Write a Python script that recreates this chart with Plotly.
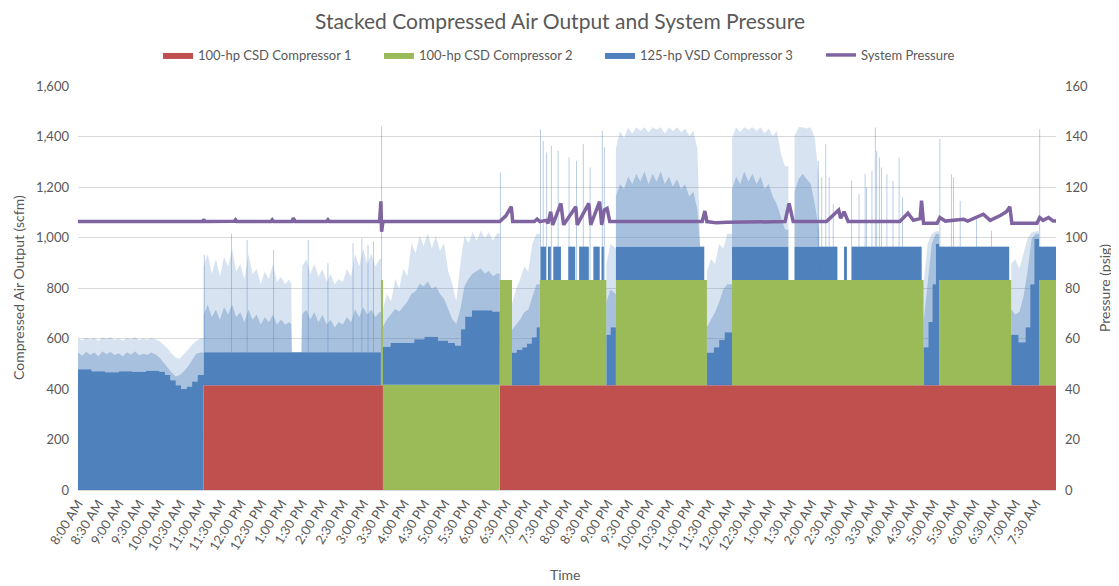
import plotly.graph_objects as go

# ---------------- data ----------------
tick_labels = ["8:00 AM", "8:30 AM", "9:00 AM", "9:30 AM", "10:00 AM", "10:30 AM",
               "11:00 AM", "11:30 AM", "12:00 PM", "12:30 PM", "1:00 PM", "1:30 PM",
               "2:00 PM", "2:30 PM", "3:00 PM", "3:30 PM", "4:00 PM", "4:30 PM",
               "5:00 PM", "5:30 PM", "6:00 PM", "6:30 PM", "7:00 PM", "7:30 PM",
               "8:00 PM", "8:30 PM", "9:00 PM", "9:30 PM", "10:00 PM", "10:30 PM",
               "11:00 PM", "11:30 PM", "12:00 AM", "12:30 AM", "1:00 AM", "1:30 AM",
               "2:00 AM", "2:30 AM", "3:00 AM", "3:30 AM", "4:00 AM", "4:30 AM",
               "5:00 AM", "5:30 AM", "6:00 AM", "6:30 AM", "7:00 AM", "7:30 AM"]

# clock times; hours >= 24 are the next morning
END_TIME = "32:00"

red_time = ["08:00", "11:05", "15:29", "18:21"]
red_scfm = [0, 415, 0, 415]

green_time = ["08:00", "15:26", "18:39", "19:20", "20:58", "21:12", "23:26", "24:03",
              "28:45", "29:08", "30:54", "31:35"]
green_scfm = [0, 417, 0, 417, 0, 417, 0, 417, 0, 417, 0, 417]

# VSD compressor, steady (solid) output level, step-wise
vsd_time = ["08:00", "08:20", "08:40", "09:00", "09:20", "09:40", "10:00", "10:08",
            "10:16", "10:24", "10:32", "10:40", "10:48", "10:56",
            "11:05", "15:26", "15:29", "15:40", "16:00", "16:15", "16:30", "16:50",
            "17:05", "17:15", "17:24", "17:30", "17:40", "18:10",
            "18:21", "18:39", "18:46", "18:54", "19:01", "19:08", "19:15",
            "19:20", "19:21", "19:29", "19:32", "19:36", "19:40", "19:51", "20:02",
            "20:12", "20:18", "20:32", "20:39", "20:48", "20:51", "20:54",
            "20:58", "21:04", "21:12", "23:22", "23:26", "23:36", "23:44", "23:52",
            "24:03", "25:26", "25:35", "26:38", "26:48", "26:52", "26:59", "28:42",
            "28:45", "28:52", "28:58", "29:03", "29:08", "30:51",
            "30:54", "31:05", "31:15", "31:22", "31:28", "31:35"]
vsd_base = [478, 470, 466, 470, 468, 472, 468, 455,
            435, 415, 400, 410, 430, 455,
            131, 0, 150, 165, 165, 180, 190, 175,
            165, 155, 220, 270, 295, 290,
            0, 130, 140, 150, 165, 190, 230,
            0, 131, 0, 131, 0, 131, 0, 131,
            0, 131, 0, 131, 0, 131, 0,
            200, 230, 131, 0, 130, 150, 180, 210,
            131, 0, 131, 0, 131, 0, 131, 0,
            150, 250, 400, 560, 131, 0,
            200, 170, 230, 400, 580, 131]

# VSD fluctuation envelopes: dense band and spike tops (duplicated times = vertical edges)
fuzz_time = ["08:00", "08:06", "08:12", "08:18", "08:24", "08:30", "08:36", "08:42",
             "08:48", "08:54", "09:00", "09:06", "09:12", "09:18", "09:24", "09:30",
             "09:36", "09:42", "09:48", "09:54", "10:00", "10:06", "10:12", "10:18",
             "10:24", "10:30", "10:36", "10:42", "10:48", "10:54", "11:00", "11:05",
             "11:05", "11:11", "11:17", "11:23", "11:29", "11:35", "11:41", "11:47",
             "11:53", "11:59", "12:05", "12:11", "12:17", "12:23", "12:29", "12:35",
             "12:41", "12:47", "12:53", "12:59", "13:05", "13:11", "13:14", "13:15",
             "13:29", "13:30", "13:36", "13:42", "13:48", "13:54", "14:00", "14:06",
             "14:12", "14:18", "14:24", "14:30", "14:36", "14:42", "14:48", "14:54",
             "15:00", "15:06", "15:12", "15:18", "15:24", "15:26", "15:26", "15:29",
             "15:29", "15:35", "15:41", "15:47", "15:53", "15:59", "16:05", "16:11",
             "16:17", "16:23", "16:29", "16:35", "16:41", "16:47", "16:53", "16:59",
             "17:05", "17:11", "17:17", "17:23", "17:29", "17:35", "17:41", "17:47",
             "17:53", "17:59", "18:05", "18:11", "18:17", "18:21", "18:21", "18:39",
             "18:39", "18:45", "18:51", "18:57", "19:03", "19:09", "19:15", "19:20",
             "19:20", "20:58", "20:58", "21:04", "21:12",
             "21:12", "21:18", "21:24", "21:30", "21:36", "21:42", "21:48", "21:54",
             "22:00", "22:06", "22:12", "22:18", "22:24", "22:30", "22:36", "22:42",
             "22:48", "22:54", "23:00", "23:06", "23:12", "23:16", "23:22", "23:26",
             "23:26", "23:32", "23:38", "23:44", "23:50", "23:56", "24:03",
             "24:03", "24:09", "24:15", "24:21", "24:27", "24:33", "24:39", "24:45",
             "24:51", "24:57", "25:03", "25:09", "25:15", "25:21", "25:26", "25:26",
             "25:35", "25:35", "25:41", "25:47", "25:53", "25:59", "26:05", "26:11",
             "26:12", "28:45",
             "28:45", "28:51", "28:57", "29:03", "29:08", "29:08", "30:54",
             "30:54", "31:00", "31:06", "31:12", "31:18", "31:24", "31:30", "31:35",
             "31:35", "32:00"]
fuzz_dense = [545, 532, 548, 536, 545, 530, 550, 538,
              548, 535, 542, 530, 546, 537, 550, 534,
              540, 536, 545, 538, 525, 505, 485, 465,
              450, 455, 470, 490, 515, 540, 545, 545,
              280, 320, 270, 300, 260, 310, 280, 320,
              270, 290, 250, 300, 260, 280, 240, 270,
              250, 280, 240, 260, 240, 250, 240, 131,
              131, 280, 300, 260, 290, 250, 280, 240,
              260, 230, 250, 240, 270, 250, 300, 270,
              310, 280, 300, 270, 290, 290, 0, 0,
              230, 260, 280, 300, 290, 310, 330, 360,
              370, 400, 390, 410, 380, 390, 360, 340,
              300, 260, 240, 300, 390, 420, 440, 450,
              460, 440, 450, 430, 440, 440, 0, 0,
              220, 240, 260, 290, 300, 350, 400, 400,
              0, 0, 330, 380, 360,
              330, 380, 360, 410, 380, 420, 390, 430,
              380, 420, 390, 430, 380, 410, 370, 400,
              360, 380, 330, 350, 280, 131, 0, 0,
              230, 260, 290, 330, 380, 400, 400,
              360, 410, 380, 430, 390, 420, 380, 410,
              360, 380, 330, 300, 250, 200, 200, 0,
              0, 350, 400, 420, 400, 380, 300, 200,
              0, 0,
              250, 400, 560, 600, 600, 0, 0,
              300, 280, 290, 350, 450, 580, 600, 600,
              0, 0]
fuzz_peak = [600, 592, 604, 596, 603, 590, 605, 598,
             606, 594, 601, 590, 603, 597, 606, 593,
             600, 595, 603, 598, 590, 575, 560, 540,
             525, 520, 540, 555, 575, 590, 600, 600,
             470, 520, 440, 500, 430, 510, 470, 540,
             450, 480, 420, 520, 440, 460, 400, 450,
             420, 480, 410, 430, 400, 420, 400, 131,
             131, 470, 500, 440, 480, 430, 460, 410,
             440, 400, 420, 410, 460, 430, 520, 470,
             540, 480, 520, 470, 500, 500, 0, 0,
             300, 360, 330, 420, 380, 460, 430, 560,
             520, 590, 550, 600, 540, 590, 530, 560,
             450, 400, 330, 480, 590, 560, 605, 570,
             610, 580, 605, 570, 600, 600, 0, 0,
             320, 380, 420, 470, 450, 560, 600, 600,
             0, 0, 480, 560, 540,
             520, 590, 560, 605, 580, 605, 590, 605,
             585, 605, 595, 605, 580, 605, 590, 605,
             585, 600, 570, 590, 520, 131, 0, 0,
             450, 500, 480, 560, 540, 600, 600,
             560, 605, 585, 605, 595, 605, 590, 605,
             580, 600, 570, 590, 500, 450, 450, 0,
             0, 570, 605, 605, 600, 605, 560, 400,
             0, 0,
             400, 560, 600, 610, 610, 0, 0,
             480, 500, 460, 520, 580, 605, 610, 610,
             0, 0]

# isolated VSD output spikes (VSD output at the spike)
spike_time = ["11:06", "11:46", "12:09", "12:48", "13:39", "14:08", "14:45", "14:58",
              "15:07", "15:15", "15:27", "18:22",
              "19:21", "19:25", "19:30", "19:37", "19:47", "20:03", "20:14", "20:24",
              "20:34", "20:52", "20:55",
              "26:10", "26:15", "26:21", "26:26", "26:32",
              "26:59", "27:10", "27:19", "27:21", "27:29", "27:34", "27:36", "27:40",
              "27:43", "27:51", "28:00", "28:09", "28:14",
              "29:09", "29:26", "29:29", "29:39", "30:03", "30:25", "31:36"]
spike_scfm = [515, 600, 575, 536, 575, 483, 562, 582,
              556, 569, 608, 425,
              597, 551, 505, 531, 511, 485, 472, 538,
              445, 590, 525,
              472, 406, 538, 406, 300,
              393, 340, 419, 366, 432, 604, 511, 485,
              445, 419, 393, 485, 327,
              558, 419, 406, 313, 247, 195, 597]

pressure_time = ["08:00", "11:04", "11:05", "11:07", "11:50", "11:52", "11:54",
                 "12:44", "12:46", "12:48", "13:15", "13:17", "13:20",
                 "14:06", "14:08", "14:10", "15:24", "15:26", "15:27", "15:29",
                 "18:21", "18:30", "18:38", "18:40", "19:12", "19:16", "19:20",
                 "19:29", "19:32", "19:36", "19:39", "19:51", "19:55", "20:13", "20:15",
                 "20:32", "20:35", "20:48", "20:51", "20:55", "20:59", "21:03",
                 "23:19", "23:23", "23:26", "23:40", "23:55",
                 "25:21", "25:27", "25:33",
                 "26:22", "26:35", "26:40", "26:43", "26:48", "26:54",
                 "28:10", "28:22", "28:30", "28:40", "28:42", "28:45",
                 "29:05", "29:09", "29:17", "29:44", "29:50", "30:13", "30:23",
                 "30:38", "30:47", "30:52", "30:55",
                 "31:32", "31:36", "31:41", "31:49", "31:56", "32:00"]
pressure_psig = [106.3, 106.3, 107.2, 106.3, 106.4, 107.0, 106.3,
                 106.3, 107.0, 106.3, 106.3, 107.7, 106.3,
                 106.3, 107.0, 106.3, 106.3, 114.3, 102.3, 106.3,
                 106.3, 108.6, 112.2, 106.3, 106.3, 107.3, 106.3,
                 106.8, 105.6, 110.2, 105.0, 113.5, 105.0, 112.2, 105.0,
                 113.5, 105.0, 114.2, 105.0, 110.9, 111.5, 106.3,
                 106.3, 110.5, 106.3, 105.8, 106.0,
                 106.3, 113.5, 106.3,
                 106.3, 109.6, 110.9, 107.6, 110.2, 106.3,
                 106.3, 109.6, 106.8, 107.5, 114.6, 105.6,
                 105.6, 107.9, 106.5, 107.2, 106.5, 109.2, 106.8,
                 108.7, 110.2, 112.2, 105.6,
                 105.6, 107.9, 106.8, 107.9, 106.5, 106.5]

# ---------------- helpers ----------------
def mins(s):
    h, m = s.split(":")
    return int(h) * 60 + int(m) - 480


def step_at(times, vals, t):
    v = vals[0]
    for tt, vv in zip(times, vals):
        if mins(tt) <= t:
            v = vv
        else:
            break
    return v


def rg_at(t):
    return step_at(red_time, red_scfm, t) + step_at(green_time, green_scfm, t)


def label_min(lbl):
    hm, ap = lbl.split(" ")
    h, m = map(int, hm.split(":"))
    h = h % 12 + (12 if ap == "PM" else 0)
    v = h * 60 + m - 480
    return v + 1440 if v < 0 else v


end_x = mins(END_TIME)
grid = sorted(set(mins(t) for t in red_time + green_time + vsd_time))
xs = grid + [end_x]

red_top = [step_at(red_time, red_scfm, x) for x in xs]
green_top = [r + step_at(green_time, green_scfm, x) for r, x in zip(red_top, xs)]
base_top = [g + step_at(vsd_time, vsd_base, x) for g, x in zip(green_top, xs)]

# fluctuation envelopes on top of the two fixed-speed units
fx = [mins(t) for t in fuzz_time]
f_rg = []
for i, x in enumerate(fx):
    left = i + 1 < len(fx) and fx[i + 1] == x
    f_rg.append(rg_at(x - 0.01) if left else rg_at(x))
dense_top = [r + v for r, v in zip(f_rg, fuzz_dense)]
peak_top = [r + v for r, v in zip(f_rg, fuzz_peak)]

RED = "#C0504D"
GREEN = "#9BBB59"
BLUE = "#4F81BD"
PURPLE = "#8064A2"
TXT = "#595959"
FONT = "Lato"

fig = go.Figure()
fig.add_trace(go.Scatter(x=xs, y=red_top, mode="lines", line=dict(width=0, shape="hv", color=RED),
                         fill="tozeroy", fillcolor=RED, name="100-hp CSD Compressor 1",
                         hoverinfo="skip"))
fig.add_trace(go.Scatter(x=xs, y=green_top, mode="lines", line=dict(width=0, shape="hv", color=GREEN),
                         fill="tonexty", fillcolor=GREEN, name="100-hp CSD Compressor 2",
                         hoverinfo="skip"))
fig.add_trace(go.Scatter(x=xs, y=base_top, mode="lines", line=dict(width=0, shape="hv", color=BLUE),
                         fill="tonexty", fillcolor=BLUE, name="125-hp VSD Compressor 3",
                         hoverinfo="skip"))
fig.add_trace(go.Scatter(x=fx, y=dense_top, mode="lines", line=dict(width=0, color=BLUE),
                         fill="tonexty", fillcolor="rgba(79,129,189,0.5)", showlegend=False,
                         hoverinfo="skip"))
fig.add_trace(go.Scatter(x=fx, y=peak_top, mode="lines", line=dict(width=0, color=BLUE),
                         fill="tonexty", fillcolor="rgba(79,129,189,0.22)", showlegend=False,
                         hoverinfo="skip"))

sx, sy = [], []
for t, v in zip(spike_time, spike_scfm):
    x = mins(t)
    rg = rg_at(x)
    sx += [x, x, None]
    sy += [rg + step_at(vsd_time, vsd_base, x), rg + v, None]
fig.add_trace(go.Scatter(x=sx, y=sy, mode="lines", line=dict(width=1, color="rgba(79,129,189,0.4)"),
                         showlegend=False, hoverinfo="skip"))

fig.add_trace(go.Scatter(x=[mins(t) for t in pressure_time], y=pressure_psig, mode="lines",
                         line=dict(width=3.5, color=PURPLE), name="System Pressure", yaxis="y2",
                         hoverinfo="skip"))

# the page body adds an 8 px offset, so the figure is laid out 8 px up/left of page coordinates
FIG_W, FIG_H = 1111, 578
fig.update_layout(
    width=FIG_W, height=FIG_H, autosize=False,
    margin=dict(l=70, r=63, t=78, b=96),
    paper_bgcolor="white", plot_bgcolor="white",
    font=dict(family=FONT, color=TXT, size=13),
    title=dict(text="Stacked Compressed Air Output and System Pressure", x=552 / FIG_W,
               xref="container", y=1 - 14 / FIG_H, yref="container", yanchor="middle",
               xanchor="center", font=dict(family=FONT, size=21, color=TXT)),
    legend=dict(orientation="h", traceorder="normal", xref="paper", yref="paper",
                x=(150 - 70) / 978, xanchor="left", y=1 + (78 - 47) / 404, yanchor="middle",
                entrywidth=176, entrywidthmode="pixels",
                font=dict(family=FONT, size=13, color=TXT), bgcolor="rgba(0,0,0,0)"),
    xaxis=dict(range=[0, end_x], tickvals=[label_min(l) for l in tick_labels], ticktext=tick_labels,
               tickangle=-58, showgrid=False, zeroline=False, showline=True, linecolor="#D9D9D9",
               ticks="", tickfont=dict(family=FONT, size=13, color=TXT)),
    yaxis=dict(range=[0, 1600], dtick=200, tickformat=",d", showgrid=True, gridcolor="#D9D9D9",
               zeroline=False, showline=False, ticks="", ticklabelstandoff=8,
               tickfont=dict(family=FONT, size=13, color=TXT)),
    yaxis2=dict(range=[0, 160], dtick=20, overlaying="y", side="right", showgrid=False,
                zeroline=False, showline=False, ticks="", ticklabelstandoff=8,
                tickfont=dict(family=FONT, size=13, color=TXT)),
    annotations=[
        dict(text="Compressed Air Output (scfm)", textangle=-90, xref="paper", yref="paper",
             x=(18 - 78) / 978, y=0.5, xanchor="center", yanchor="middle", showarrow=False,
             font=dict(family=FONT, size=14, color=TXT)),
        dict(text="Pressure (psig)", textangle=-90, xref="paper", yref="paper",
             x=(1104 - 78) / 978, y=0.5, xanchor="center", yanchor="middle", showarrow=False,
             font=dict(family=FONT, size=14, color=TXT)),
        dict(text="Time", xref="paper", yref="paper", x=(565 - 78) / 978, y=(490 - 574) / 404,
             xanchor="center", yanchor="middle", showarrow=False,
             font=dict(family=FONT, size=14, color=TXT)),
    ],
)

fig.write_html("out.html")
